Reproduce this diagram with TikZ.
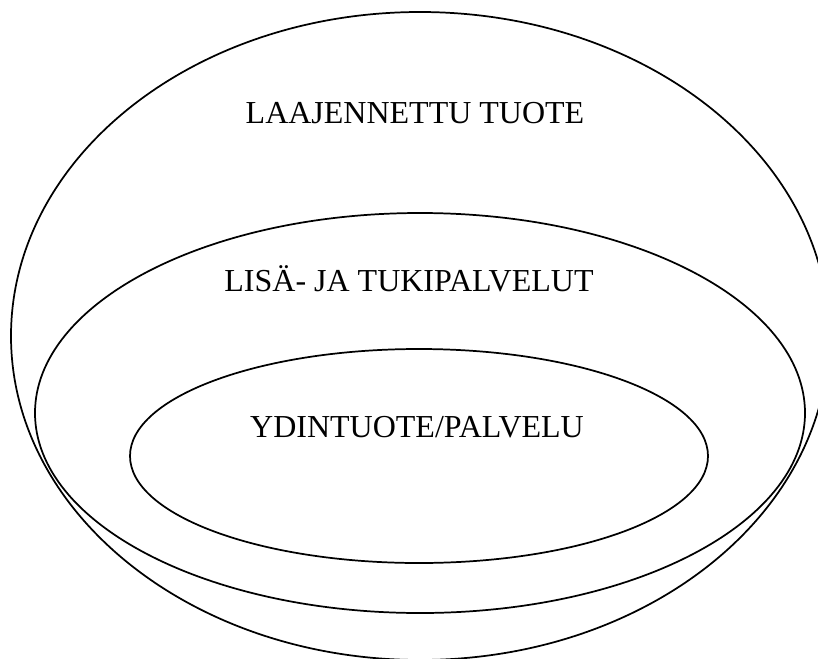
\documentclass[tikz,border=0pt]{standalone}
\usepackage{fontspec}
\setmainfont{Liberation Serif}
\begin{document}
\begin{tikzpicture}[x=0.75pt, y=-0.75pt,
  ring/.style={draw=black, line width=1.3pt},
  label/.style={anchor=base, inner sep=0pt, font=\fontsize{24}{28}\selectfont}]
  \useasboundingbox (0,0) rectangle (818,658);
  \clip (0,0) rectangle (818,658);
  % nested product layers (the outer one runs past the frame)
  \draw[ring] (420,336) ellipse [x radius=409, y radius=324];
  \draw[ring] (420,413) ellipse [x radius=385, y radius=200];
  \draw[ring] (419,456) ellipse [x radius=289, y radius=107];
  % layer titles
  \node[label] (outer) at (415,123) {LAAJENNETTU TUOTE};
  \node[label] (middle) at (409,291) {LISÄ- JA TUKIPALVELUT};
  \node[label] (core) at (417,437) {YDINTUOTE/PALVELU};
\end{tikzpicture}
\end{document}
